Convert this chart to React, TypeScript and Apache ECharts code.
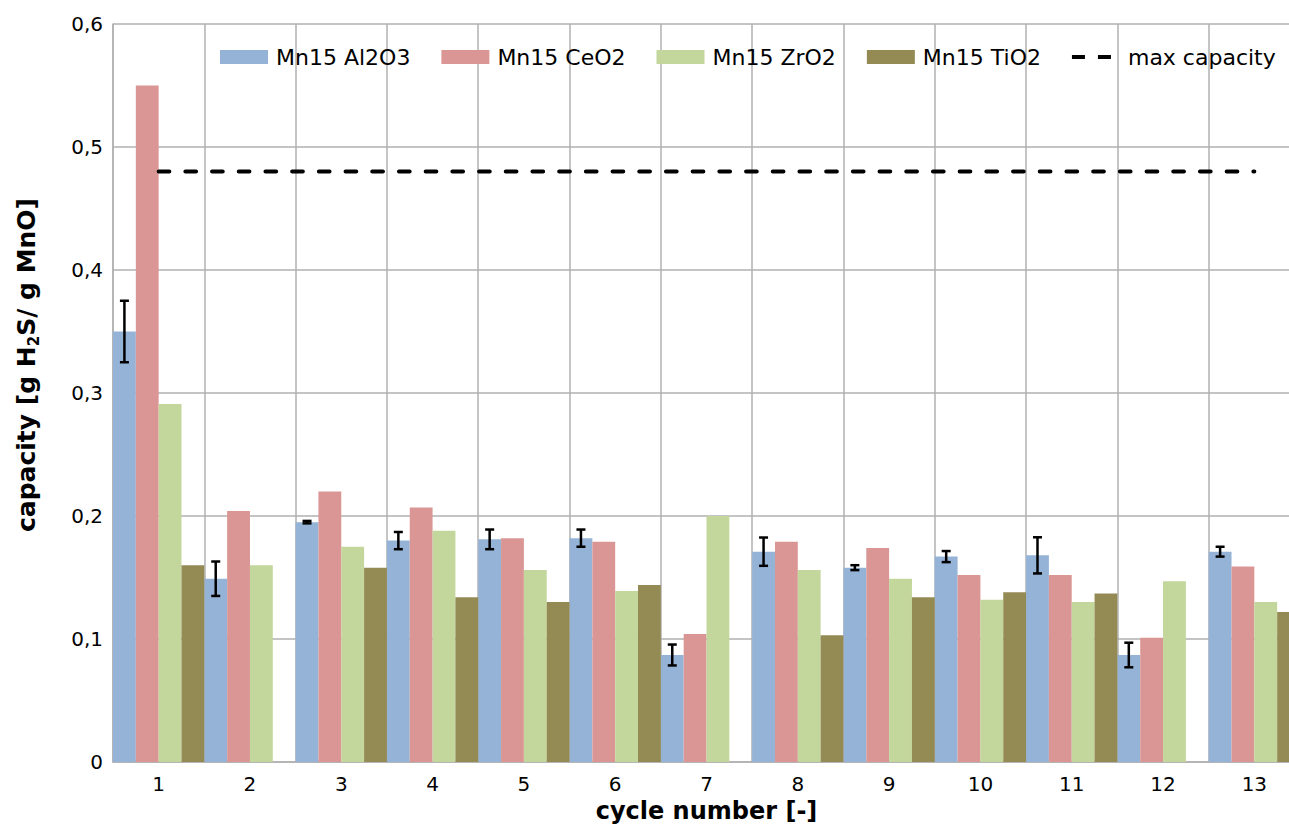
import React, { useEffect, useRef } from "react";
import * as echarts from "echarts";

const categories = ["1", "2", "3", "4", "5", "6", "7", "8", "9", "10", "11", "12", "13"];
const al2o3 = [0.350, 0.149, 0.195, 0.180, 0.181, 0.182, 0.087, 0.171, 0.158, 0.167, 0.168, 0.087, 0.171];
const al2o3Err = [0.025, 0.014, 0.001, 0.007, 0.008, 0.007, 0.0085, 0.0115, 0.002, 0.0045, 0.0147, 0.01, 0.004];
const ceo2 = [0.550, 0.204, 0.220, 0.207, 0.182, 0.179, 0.104, 0.179, 0.174, 0.152, 0.152, 0.101, 0.159];
const zro2 = [0.291, 0.160, 0.175, 0.188, 0.156, 0.139, 0.200, 0.156, 0.149, 0.132, 0.130, 0.147, 0.130];
const tio2 = [0.160, null, 0.158, 0.134, 0.130, 0.144, null, 0.103, 0.134, 0.138, 0.137, null, 0.122];
const maxCapacity = 0.48;
const yTicks = [0, 0.1, 0.2, 0.3, 0.4, 0.5, 0.6];

const FONT = "DejaVu Sans";
const GRID = "#b0b0b0";

export default function App() {
  const ref = useRef<HTMLDivElement>(null);

  useEffect(() => {
    if (!ref.current) return;
    const chart = echarts.init(ref.current, undefined, { renderer: "svg" });
    const errData = al2o3.map((v, i) => [i, v - al2o3Err[i], v + al2o3Err[i]]);
    const barCommon = { type: "bar", barGap: "0%", barCategoryGap: "0%" };
    chart.setOption({
      animation: false,
      backgroundColor: "#ffffff",
      grid: { left: 113, top: 24, width: 1187, height: 738, containLabel: false },
      legend: {
        left: 215,
        top: 41,
        itemWidth: 48,
        itemHeight: 14,
        itemGap: 31,
        textStyle: { fontFamily: FONT, fontSize: 22, color: "#000", padding: [0, 0, 0, 3] },
        data: [
          { name: "Mn15 Al2O3", icon: "rect" },
          { name: "Mn15 CeO2", icon: "rect" },
          { name: "Mn15 ZrO2", icon: "rect" },
          { name: "Mn15 TiO2", icon: "rect" },
          {
            name: "max capacity",
            icon: "path://M0,5h13v4h-13z M26,5h13v4h-13z M0,0 M48,14",
            itemStyle: { color: "#000" },
          },
        ],
      },
      xAxis: {
        type: "category",
        data: categories,
        axisLine: { show: true, lineStyle: { color: GRID, width: 1.5 } },
        axisTick: { show: false },
        splitLine: { show: true, lineStyle: { color: GRID, width: 1.5 } },
        axisLabel: { fontFamily: FONT, fontSize: 20, color: "#000", margin: 12 },
        name: "cycle number [-]",
        nameLocation: "middle",
        nameGap: 33,
        nameTextStyle: { fontFamily: FONT, fontSize: 24, fontWeight: "bold", color: "#000" },
      },
      yAxis: {
        type: "value",
        min: 0,
        max: 0.6,
        interval: 0.1,
        axisLine: { show: true, lineStyle: { color: GRID, width: 1.5 } },
        axisTick: { show: false },
        splitLine: { show: true, lineStyle: { color: GRID, width: 1.5 } },
        axisLabel: {
          fontFamily: FONT,
          fontSize: 20,
          color: "#000",
          margin: 10,
          formatter: (v: number) => {
            const t = yTicks.find((k) => Math.abs(k - v) < 1e-9);
            const val = t === undefined ? v : t;
            return val === 0 ? "0" : val.toFixed(1).replace(".", ",");
          },
        },
        name: "{a|capacity [g H}{b|2}{a|S/ g MnO]}",
        nameLocation: "middle",
        nameGap: 72,
        nameTextStyle: {
          padding: [0, 0, 0, 56],
          rich: {
            a: { fontFamily: FONT, fontSize: 25, fontWeight: "bold", color: "#000", lineHeight: 30 },
            b: { fontFamily: FONT, fontSize: 15, fontWeight: "bold", color: "#000", lineHeight: 20, verticalAlign: "bottom" },
          },
        },
      },
      series: [
        { ...barCommon, name: "Mn15 Al2O3", data: al2o3, itemStyle: { color: "#95b3d7" } },
        { ...barCommon, name: "Mn15 CeO2", data: ceo2, itemStyle: { color: "#d99694" } },
        { ...barCommon, name: "Mn15 ZrO2", data: zro2, itemStyle: { color: "#c3d69b" } },
        { ...barCommon, name: "Mn15 TiO2", data: tio2.map((v) => (v === null ? "-" : v)), itemStyle: { color: "#948a54" } },
        {
          type: "line",
          name: "max capacity",
          data: categories.map(() => maxCapacity),
          symbol: "none",
          z: 4,
          itemStyle: { color: "#000" },
          lineStyle: { color: "#000", width: 4, type: [10.7, 16], cap: "round" },
        },
        {
          type: "custom",
          name: "error",
          z: 5,
          encode: { x: 0, y: [1, 2] },
          data: errData,
          renderItem: (params: any, api: any) => {
            const idx = api.value(0);
            const lo = api.coord([idx, api.value(1)]);
            const hi = api.coord([idx, api.value(2)]);
            const cw = api.size([1, 0])[0];
            const x = lo[0] - (cw * 3) / 8;
            const c = 4.5;
            const st = { stroke: "#000", lineWidth: 2.5 };
            return {
              type: "group",
              children: [
                { type: "line", shape: { x1: x, y1: hi[1], x2: x, y2: lo[1] }, style: st },
                { type: "line", shape: { x1: x - c, y1: hi[1], x2: x + c, y2: hi[1] }, style: st },
                { type: "line", shape: { x1: x - c, y1: lo[1], x2: x + c, y2: lo[1] }, style: st },
              ],
            };
          },
        },
      ],
    });
    return () => chart.dispose();
  }, []);

  return (
    <div
      style={{
        position: "fixed",
        left: 0,
        top: 0,
        width: 1289,
        height: 835,
        overflow: "hidden",
        background: "#fff",
      }}
    >
      <div ref={ref} style={{ width: 1320, height: 835 }} />
    </div>
  );
}
